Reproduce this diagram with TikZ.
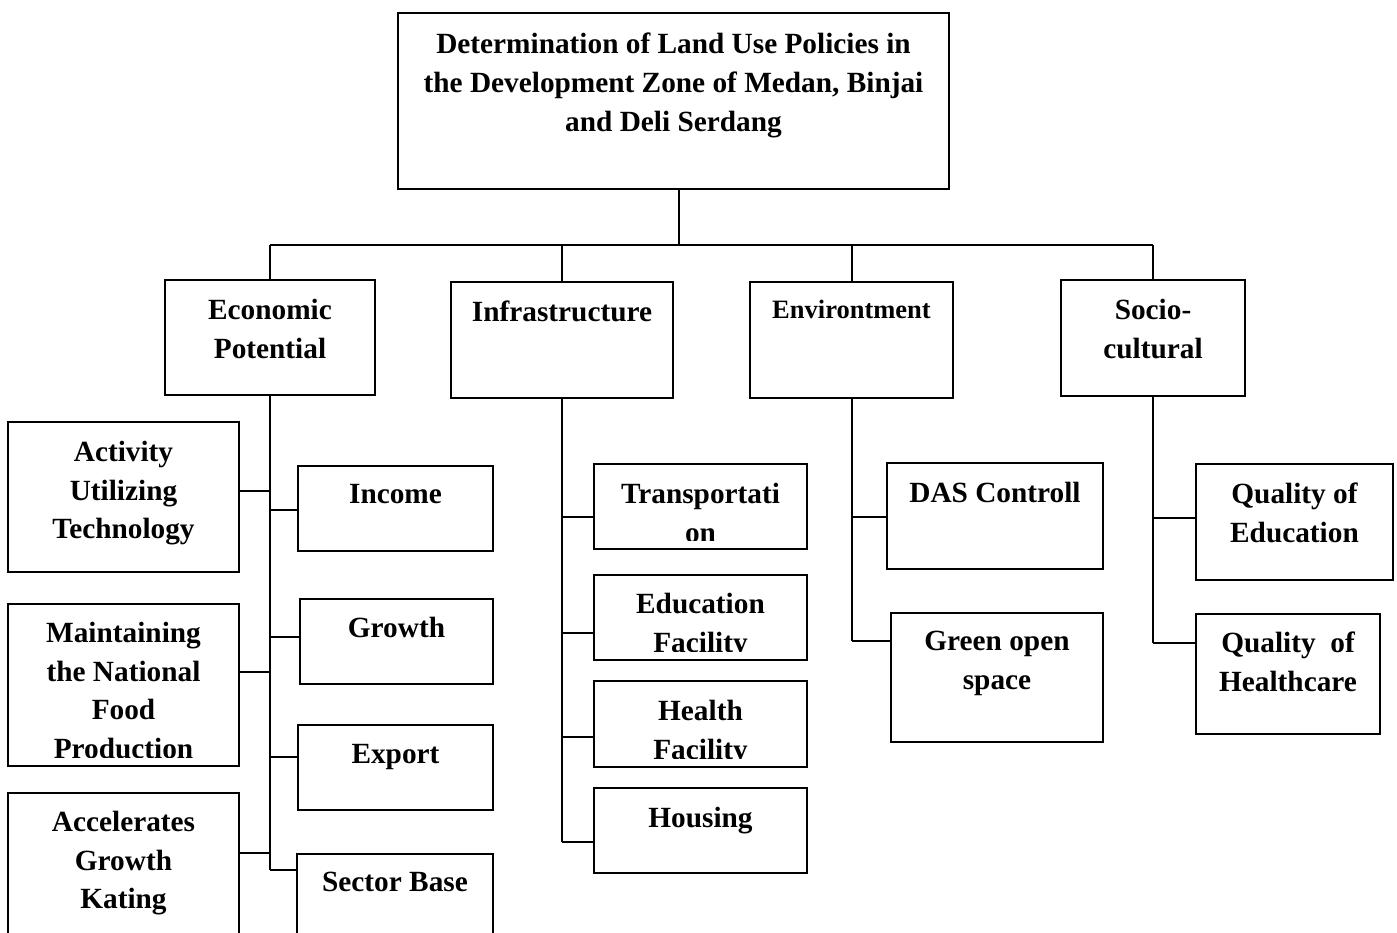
\documentclass[tikz,border=0pt]{standalone}
\usepackage{fontspec}
\setmainfont{Liberation Serif}
\usetikzlibrary{calc}

\tikzset{
  box/.style={draw, line width=2pt, inner sep=0pt, outer sep=0pt},
  lbl/.style={anchor=north, align=center, inner sep=0pt, font=\bfseries\fontsize{29.3}{38.7}\selectfont},
  conn/.style={line width=2pt}
}
% box with its text hanging from the top, cut off near the bottom edge
\def\tbox(#1)(#2,#3)(#4,#5)[#6]#7{%
  \node[box, minimum width={#4-#2}, minimum height={#5-#3}] (#1) at ({(#2+#4)/2},{(#3+#5)/2}) {};
  \begin{scope}
    \clip (#2,#3) rectangle (#4,{#5-9});
    \node[lbl] (#1-t) at ({(#2+#4)/2},#6) {#7};
  \end{scope}}

\begin{document}
\begin{tikzpicture}[x=1pt,y=-1pt]
		%%%%% START %%%%%
		\useasboundingbox (0,0) rectangle (1397,933);
		\clip (0,0) rectangle (1397,933);
		
		\tbox(top)(398,13)(949,189)[33]{Determination of Land Use Policies in\\the Development Zone of Medan, Binjai\\and Deli Serdang}
		
		\tbox(eco)(165,280)(375,395)[299]{Economic\\Potential}
		\tbox(infra)(451,282)(673,398)[301]{Infrastructure}
		\tbox(env)(750,282)(953,398)[300]{\fontsize{26.5}{35}\selectfont Environtment}
		\tbox(soc)(1061,280)(1245,396)[299]{Socio-\\cultural}
		
		\coordinate (bus) at (679,245);
		\draw[conn] (top.south -| bus) -- (bus);
		\draw[conn] (eco.north |- bus) -- (soc.north |- bus);
		\foreach \n in {eco,infra,env,soc}
			\draw[conn] (\n.north) -- (\n.north |- bus);
		
		% economic potential
		\tbox(act)(8,422)(239,572)[441]{Activity\\Utilizing\\Technology}
		\tbox(main)(8,604)(239,766)[622]{Maintaining\\the National\\Food\\Production}
		\tbox(acc)(8,793)(239,960)[811]{Accelerates\\Growth\\Kating}
		\tbox(inc)(298,466)(493,551)[484]{Income}
		\tbox(gro)(300,599)(493,684)[617]{Growth}
		\tbox(exp)(298,725)(493,810)[744]{Export}
		\tbox(sec)(297,854)(493,960)[872]{Sector Base}
		
		\draw[conn] (eco.south) -- (eco.south |- 0,870);
		\foreach \n/\y in {act/491,main/672,acc/853}
			\draw[conn] (\n.east |- 0,\y) -- (eco.south |- 0,\y);
		\foreach \n/\y in {inc/510,gro/637,exp/757,sec/870}
			\draw[conn] (\n.west |- 0,\y) -- (eco.south |- 0,\y);
		
		% infrastructure
		\tbox(trans)(594,464)(807,549)[483]{Transportati\\on}
		\tbox(edu)(594,575)(807,660)[593]{Education\\Facility}
		\tbox(hea)(594,681)(807,767)[700]{Health\\Facility}
		\tbox(hou)(594,788)(807,873)[807]{Housing}
		
		\draw[conn] (infra.south) -- (infra.south |- 0,842);
		\foreach \n/\y in {trans/517,edu/633,hea/737,hou/842}
			\draw[conn] (\n.west |- 0,\y) -- (infra.south |- 0,\y);
		
		% environtment
		\tbox(das)(887,463)(1103,569)[482]{DAS Controll}
		\tbox(gos)(891,613)(1103,742)[631]{Green open\\space}
		
		\draw[conn] (env.south) -- (env.south |- 0,641);
		\foreach \n/\y in {das/517,gos/641}
			\draw[conn] (\n.west |- 0,\y) -- (env.south |- 0,\y);
		
		% socio-cultural
		\tbox(qed)(1196,464)(1393,580)[483]{Quality of\\Education}
		\tbox(qhc)(1196,614)(1380,734)[632]{Quality\ \ of\\Healthcare}
		
		\draw[conn] (soc.south) -- (soc.south |- 0,643);
		\foreach \n/\y in {qed/518,qhc/643}
			\draw[conn] (\n.west |- 0,\y) -- (soc.south |- 0,\y);
		
		%%%%% END %%%%%
\end{tikzpicture}
\end{document}
